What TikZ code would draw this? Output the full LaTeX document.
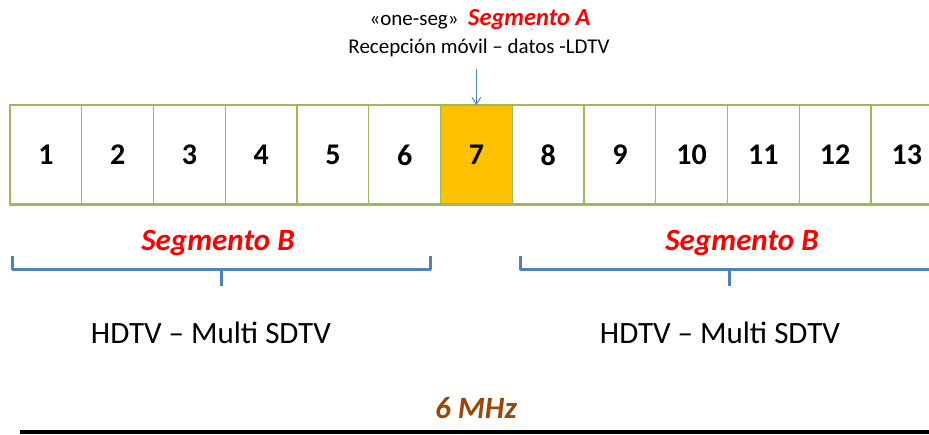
\documentclass[tikz,border=0pt]{standalone}
\usepackage{fontspec}
\setmainfont{Carlito}
\usetikzlibrary{arrows.meta}
\usetikzlibrary{positioning}
\usetikzlibrary{calc}

\definecolor{cellgreen}{HTML}{9BBB59}
\definecolor{segorange}{HTML}{FFC000}
\definecolor{braceblue}{HTML}{4F81BD}
\definecolor{mhzbrown}{HTML}{984807}

\begin{document}
\begin{tikzpicture}[
		x=1pt,
		y=1pt,
		font=\fontsize{31pt}{33pt}\selectfont,
		>={Straight Barb[length=7,width=9]},
	]
		\tikzset{segbox/.style={
			draw=cellgreen,
			line width=1.2,
			rectangle,
			inner sep=0,
			outer sep=0,
			minimum width=71.75,
			minimum height=100,
			font=\fontsize{30pt}{32pt}\selectfont\bfseries,
		}}
		\tikzset{segtitle/.style={
			text=red,
			font=\fontsize{31pt}{33pt}\selectfont\bfseries\itshape,
		}}
		\tikzset{brace/.style={
			draw=braceblue,
			line width=3,
			line join=round,
		}}

		\useasboundingbox (0,0) rectangle (929,-435);
		\clip (0,0) rectangle (929,-435);

		%---------------------------------
		% Segments
		\node[segbox, anchor=north west] (seg1) at (10,-105) {1};
		\node[segbox, anchor=west] (seg2) at (seg1.east) {2};
		\node[segbox, anchor=west] (seg3) at (seg2.east) {3};
		\node[segbox, anchor=west] (seg4) at (seg3.east) {4};
		\node[segbox, anchor=west] (seg5) at (seg4.east) {5};
		\node[segbox, anchor=west] (seg6) at (seg5.east) {6};
		\node[segbox, anchor=west, fill=segorange] (seg7) at (seg6.east) {7};
		\node[segbox, anchor=west] (seg8) at (seg7.east) {8};
		\node[segbox, anchor=west] (seg9) at (seg8.east) {9};
		\node[segbox, anchor=west] (seg10) at (seg9.east) {10};
		\node[segbox, anchor=west] (seg11) at (seg10.east) {11};
		\node[segbox, anchor=west] (seg12) at (seg11.east) {12};
		\node[segbox, anchor=west] (seg13) at (seg12.east) {13};

		\draw[cellgreen, line width=3] (seg1.south west) -- (seg13.south east);

		%---------------------------------
		% Segmento A
		\node[font=\fontsize{21pt}{23pt}\selectfont] (onesegtop) at (480,-20)
			{«one-seg»\ \ {\fontsize{24.5pt}{26pt}\selectfont\bfseries\itshape\color{red}Segmento A}};
		\node[font=\fontsize{21pt}{23pt}\selectfont] (onesegsub) at (479,-48)
			{Recepción móvil – datos -LDTV};

		\draw[->, braceblue, line width=0.9] ([yshift=-8]seg7.north |- onesegsub.south) -- (seg7.north);

		%---------------------------------
		% Segmento B
		\node[segtitle] (segbleft) at (218,-243) {Segmento B};
		\node[segtitle] (segbright) at (742,-243) {Segmento B};

		\draw[brace] (12,-256) -- (12,-270) -- (430,-270) -- (430,-256);
		\draw[brace] (221,-270) -- (221,-286);
		\draw[brace] (520,-256) -- (520,-270) -- (940,-270);
		\draw[brace] (729,-270) -- (729,-286);

		\node (hdtvleft) at (211,-333) {HDTV – Multi SDTV};
		\node (hdtvright) at (720,-333) {HDTV – Multi SDTV};

		%---------------------------------
		% Band
		\node[text=mhzbrown, font=\fontsize{31pt}{33pt}\selectfont\bfseries\itshape] (band) at (476,-408) {6 MHz};
		\draw[line width=4] (20,-432) -- (929,-432);
	\end{tikzpicture}
\end{document}
